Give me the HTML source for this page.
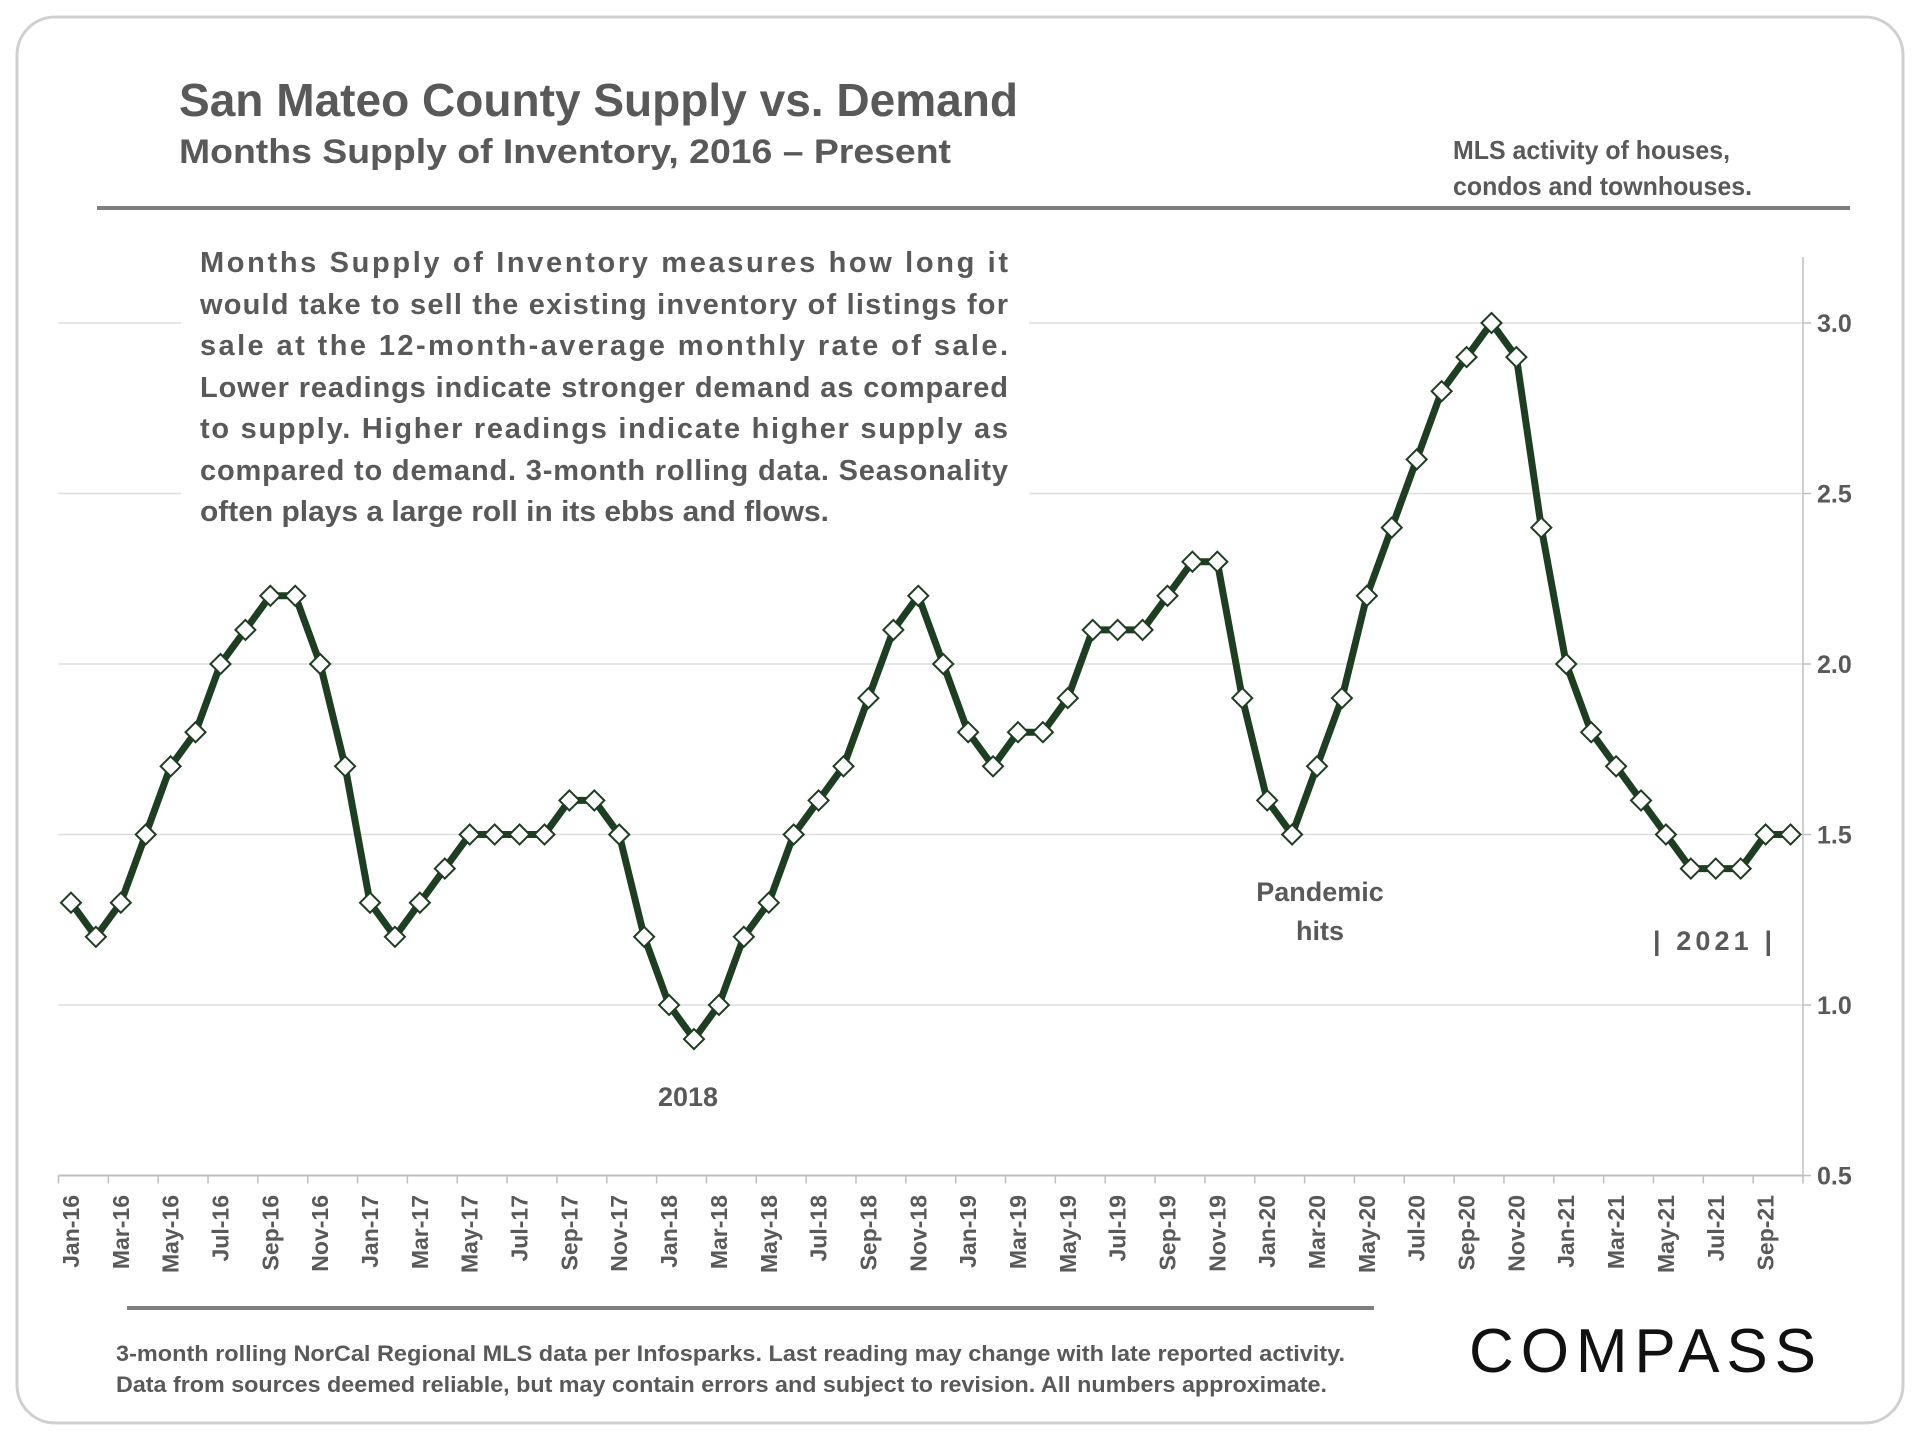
<!DOCTYPE html>
<html><head><meta charset="utf-8"><style>
html,body{margin:0;padding:0;background:#fff;}
svg{display:block;font-family:"Liberation Sans",sans-serif;}
</style></head><body>
<svg id="chart" width="1920" height="1440" viewBox="0 0 1920 1440">
<rect x="17" y="17" width="1886" height="1406" rx="38" fill="#fff" stroke="#d0d0d0" stroke-width="3"/>
<text x="179" y="116" font-size="46" font-weight="bold" fill="#595959" textLength="839" lengthAdjust="spacingAndGlyphs">San Mateo County Supply vs. Demand</text>
<text x="179" y="163" font-size="34" font-weight="bold" fill="#595959" textLength="772" lengthAdjust="spacingAndGlyphs">Months Supply of Inventory, 2016 – Present</text>
<text x="1453" y="159" font-size="26" font-weight="bold" fill="#595959" textLength="277" lengthAdjust="spacingAndGlyphs">MLS activity of houses,</text>
<text x="1453" y="195" font-size="26" font-weight="bold" fill="#595959" textLength="299" lengthAdjust="spacingAndGlyphs">condos and townhouses.</text>
<rect x="97" y="206" width="1753" height="4" fill="#7f7f7f"/>
<g id="grid"></g>
<rect x="181" y="240" width="848" height="300" fill="#fff"/>
<g id="desc" font-size="29" font-weight="bold" fill="#595959">
<text x="200" y="272" textLength="808" lengthAdjust="spacing">Months Supply of Inventory measures how long it</text>
<text x="200" y="314" textLength="808" lengthAdjust="spacing">would take to sell the existing inventory of listings for</text>
<text x="200" y="355" textLength="808" lengthAdjust="spacing">sale at the 12-month-average monthly rate of sale.</text>
<text x="200" y="397" textLength="808" lengthAdjust="spacing">Lower readings indicate stronger demand as compared</text>
<text x="200" y="438" textLength="808" lengthAdjust="spacing">to supply. Higher readings indicate higher supply as</text>
<text x="200" y="480" textLength="808" lengthAdjust="spacing">compared to demand. 3-month rolling data. Seasonality</text>
<text x="200" y="521" textLength="629" lengthAdjust="spacingAndGlyphs">often plays a large roll in its ebbs and flows.</text>
</g>
<g id="axes"></g>
<g id="series"></g>
<text x="688" y="1106" font-size="27" font-weight="bold" fill="#595959" text-anchor="middle">2018</text>
<text x="1320" y="901" font-size="27" font-weight="bold" fill="#595959" text-anchor="middle">Pandemic</text>
<text x="1320" y="940" font-size="27" font-weight="bold" fill="#595959" text-anchor="middle">hits</text>
<text x="1653" y="950" font-size="27" font-weight="bold" fill="#595959" textLength="119" lengthAdjust="spacing">| 2021 |</text>
<rect x="127" y="1306" width="1247" height="4" fill="#7f7f7f"/>
<text x="116" y="1361" font-size="22" font-weight="bold" fill="#595959" textLength="1229" lengthAdjust="spacingAndGlyphs">3-month rolling NorCal Regional MLS data per Infosparks. Last reading may change with late reported activity.</text>
<text x="116" y="1392" font-size="22" font-weight="bold" fill="#595959" textLength="1211" lengthAdjust="spacingAndGlyphs">Data from sources deemed reliable, but may contain errors and subject to revision. All numbers approximate.</text>
<text x="1469" y="1372" font-size="62" fill="#111" textLength="347" lengthAdjust="spacing">COMPASS</text>
</svg>
<script>
const categories = (function(){const m=["Jan","Feb","Mar","Apr","May","Jun","Jul","Aug","Sep","Oct","Nov","Dec"];const out=[];for(let y=16;y<=21;y++)for(let i=0;i<12;i++){if(y===21&&i>9)break;out.push(m[i]+"-"+y);}return out;})();
const supplyValues = [
1.3,1.2,1.3,1.5,1.7,1.8,2.0,2.1,2.2,2.2,2.0,1.7,
1.3,1.2,1.3,1.4,1.5,1.5,1.5,1.5,1.6,1.6,1.5,1.2,
1.0,0.9,1.0,1.2,1.3,1.5,1.6,1.7,1.9,2.1,2.2,2.0,
1.8,1.7,1.8,1.8,1.9,2.1,2.1,2.1,2.2,2.3,2.3,1.9,
1.6,1.5,1.7,1.9,2.2,2.4,2.6,2.8,2.9,3.0,2.9,2.4,
2.0,1.8,1.7,1.6,1.5,1.4,1.4,1.4,1.5,1.5];
const yTicks = [0.5,1.0,1.5,2.0,2.5,3.0];
const yTickLabels = ["0.5","1.0","1.5","2.0","2.5","3.0"];

const NS="http://www.w3.org/2000/svg";
const X0=58.5, X1=1803, Y0=1175.5, YMIN=0.5, YMAX=3.0, YTOP=323;
const step=(X1-X0)/categories.length;
function xPos(i){return X0+step*(i+0.5);}
function yPos(v){return Y0-(v-YMIN)/(YMAX-YMIN)*(Y0-YTOP);}
function mk(tag,attrs,parent){const e=document.createElementNS(NS,tag);for(const k in attrs)e.setAttribute(k,attrs[k]);parent.appendChild(e);return e;}

const grid=document.getElementById('grid');
const axes=document.getElementById('axes');
yTicks.forEach((t,i)=>{
  const y=yPos(t);
  if(i>0){const g=mk('line',{x1:X0,x2:X1,y1:y,y2:y,stroke:'#dedede','stroke-width':1.5},grid);
  
  }
  const tk=mk('line',{x1:X1,x2:X1+8,y1:y,y2:y,stroke:'#bfbfbf','stroke-width':1.5},axes);
  
  
  const lb=mk('text',{x:X1+14,y:y+9,'font-size':25,'font-weight':'bold',fill:'#595959'},axes);
  lb.textContent=yTickLabels[i];
  
  
});
const ya=mk('line',{x1:X1,x2:X1,y1:257,y2:Y0,stroke:'#bfbfbf','stroke-width':1.5},axes);


const xa=mk('line',{x1:X0,x2:X1,y1:Y0,y2:Y0,stroke:'#bfbfbf','stroke-width':2},axes);


for(let i=0;i<=categories.length;i+=2){
  const x=X0+step*i;
  const t=mk('line',{x1:x,x2:x,y1:Y0,y2:Y0+8,stroke:'#bfbfbf','stroke-width':1.5},axes);
  
  
}
for(let i=0;i<categories.length;i+=2){
  const x=xPos(i)+8;
  const lb=mk('text',{x:0,y:0,'font-size':23,'font-weight':'bold',fill:'#595959','text-anchor':'end',transform:`translate(${x},1195) rotate(-90)`},axes);
  lb.textContent=categories[i];
  
  
}
const series=document.getElementById('series');
const pts=supplyValues.map((v,i)=>xPos(i).toFixed(1)+','+yPos(v).toFixed(1)).join(' ');
const line=mk('polyline',{points:pts,fill:'none',stroke:'#1d3e20','stroke-width':7,'stroke-linejoin':'round'},series);


supplyValues.forEach((v,i)=>{
  const x=xPos(i),y=yPos(v),r=10;
  const d=mk('polygon',{points:`${x},${y-r} ${x+r},${y} ${x},${y+r} ${x-r},${y}`,fill:'#fff',stroke:'#1d3e20','stroke-width':2},series);
  
  
});
</script>
</body></html>
